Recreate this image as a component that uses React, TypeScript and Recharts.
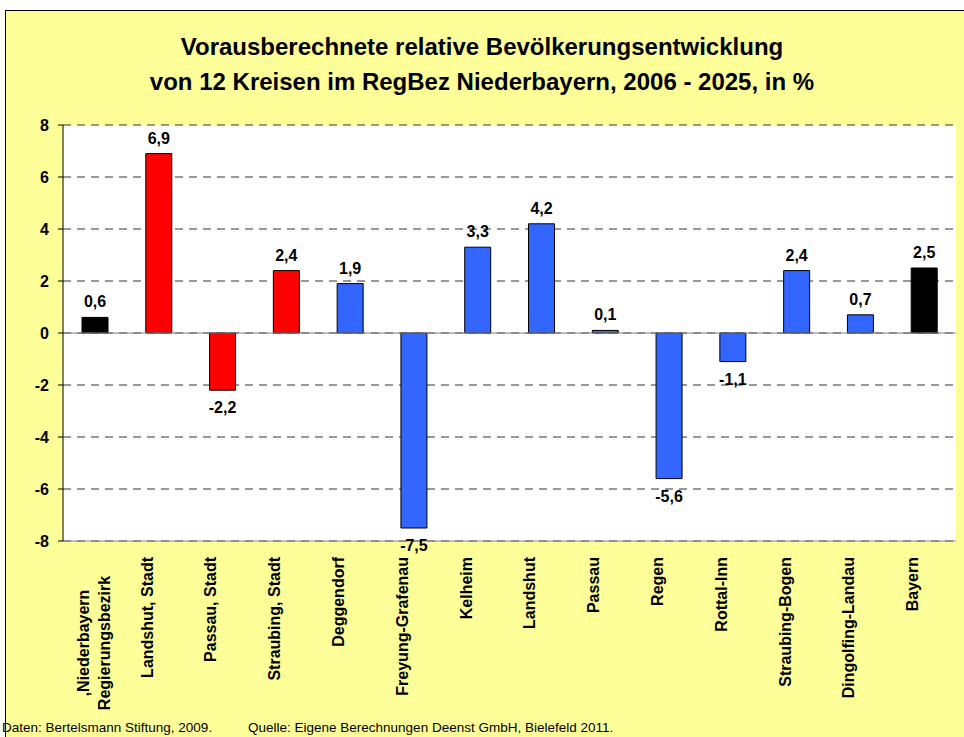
import { BarChart, Bar, XAxis, YAxis, CartesianGrid, ReferenceLine, Cell, LabelList } from 'recharts';

const categories = [
  'Niederbayern Regierungsbezirk',
  'Landshut, Stadt',
  'Passau, Stadt',
  'Straubing, Stadt',
  'Deggendorf',
  'Freyung-Grafenau',
  'Kelheim',
  'Landshut',
  'Passau',
  'Regen',
  'Rottal-Inn',
  'Straubing-Bogen',
  'Dingolfing-Landau',
  'Bayern',
];
const values = [0.6, 6.9, -2.2, 2.4, 1.9, -7.5, 3.3, 4.2, 0.1, -5.6, -1.1, 2.4, 0.7, 2.5];
const barColors = [
  '#000000', '#FF0000', '#FF0000', '#FF0000', '#3366FF', '#3366FF', '#3366FF',
  '#3366FF', '#3366FF', '#3366FF', '#3366FF', '#3366FF', '#3366FF', '#000000',
];
const yTicks = [-8, -6, -4, -2, 0, 2, 4, 6, 8];

const data = categories.map((name, i) => ({ name, value: values[i] }));

const FONT = '"Liberation Sans", Arial, sans-serif';

const CategoryTick = (props: any) => {
  const { x, y, payload } = props;
  const label: string = payload.value;
  if (label === 'Niederbayern Regierungsbezirk') {
    const cy = y + 94;
    return (
      <g fontFamily={FONT} fontWeight="bold" fontSize={16} fill="#000">
        <text transform={`translate(${x - 6},${cy}) rotate(-90)`} textAnchor="middle">,Niederbayern</text>
        <text transform={`translate(${x + 15},${cy}) rotate(-90)`} textAnchor="middle">Regierungsbezirk</text>
      </g>
    );
  }
  return (
    <text
      transform={`translate(${x - 6},${y + 8}) rotate(-90)`}
      textAnchor="end"
      fontFamily={FONT}
      fontWeight="bold"
      fontSize={16}
      fill="#000"
    >
      {label}
    </text>
  );
};

const ValueLabel = (props: any) => {
  const { x, y, width, height, value } = props;
  const top = Math.min(y, y + height);
  const bottom = Math.max(y, y + height);
  const ty = value >= 0 ? top - 10 : bottom + 23;
  return (
    <text x={x + width / 2} y={ty} textAnchor="middle" fontFamily={FONT} fontWeight="bold" fontSize={16} fill="#000">
      {String(value).replace('.', ',')}
    </text>
  );
};

const footStyle = {
  position: 'absolute' as const,
  top: 720,
  fontFamily: FONT,
  fontSize: 13.5,
  lineHeight: '15px',
  whiteSpace: 'pre' as const,
  color: '#000',
};

export default function App() {
  return (
    <div style={{ position: 'absolute', left: 0, top: 0, width: 964, height: 737, overflow: 'hidden', background: '#fff' }}>
      <div
        style={{
          position: 'absolute',
          left: 5,
          top: 10,
          width: 975,
          height: 740,
          background: '#FFFF99',
          border: '1.5px solid #000',
        }}
      />
      <div
        style={{
          position: 'absolute',
          left: 0,
          top: 29,
          width: 964,
          textAlign: 'center',
          fontFamily: FONT,
          fontWeight: 'bold',
          fontSize: 24,
          lineHeight: '35px',
        }}
      >
        Vorausberechnete relative Bevölkerungsentwicklung
        <br />
        von 12 Kreisen im RegBez Niederbayern, 2006 - 2025, in %
      </div>
      <div style={{ position: 'absolute', left: 0, top: 0 }}>
        <BarChart width={964} height={737} data={data} margin={{ top: 125, right: 8, left: 8, bottom: 6 }}>
          <CartesianGrid vertical={false} fill="#fff" stroke="#333" strokeDasharray="8 6" />
          <XAxis
            dataKey="name"
            interval={0}
            height={190}
            tick={<CategoryTick />}
            tickLine={false}
            axisLine={{ stroke: '#888' }}
          />
          <YAxis
            domain={[-8, 8]}
            ticks={yTicks}
            width={55}
            tickSize={5}
            tickMargin={9}
            axisLine={{ stroke: '#000' }}
            tickLine={{ stroke: '#000' }}
            tick={{ fill: '#000', fontFamily: FONT, fontWeight: 'bold', fontSize: 16 }}
          />
          <YAxis
            yAxisId="right"
            orientation="right"
            domain={[-8, 8]}
            width={0}
            tick={false}
            tickLine={false}
            axisLine={{ stroke: '#999' }}
          />
          <ReferenceLine y={0} stroke="#808080" />
          <Bar dataKey="value" barSize={26} stroke="#000" strokeWidth={1} isAnimationActive={false}>
            {data.map((d, i) => (
              <Cell key={d.name} fill={barColors[i]} />
            ))}
            <LabelList dataKey="value" content={<ValueLabel />} />
          </Bar>
        </BarChart>
      </div>
      <div style={{ ...footStyle, left: 2 }}>Daten: Bertelsmann Stiftung, 2009.</div>
      <div style={{ ...footStyle, left: 248 }}>Quelle: Eigene Berechnungen Deenst GmbH, Bielefeld 2011.</div>
    </div>
  );
}
